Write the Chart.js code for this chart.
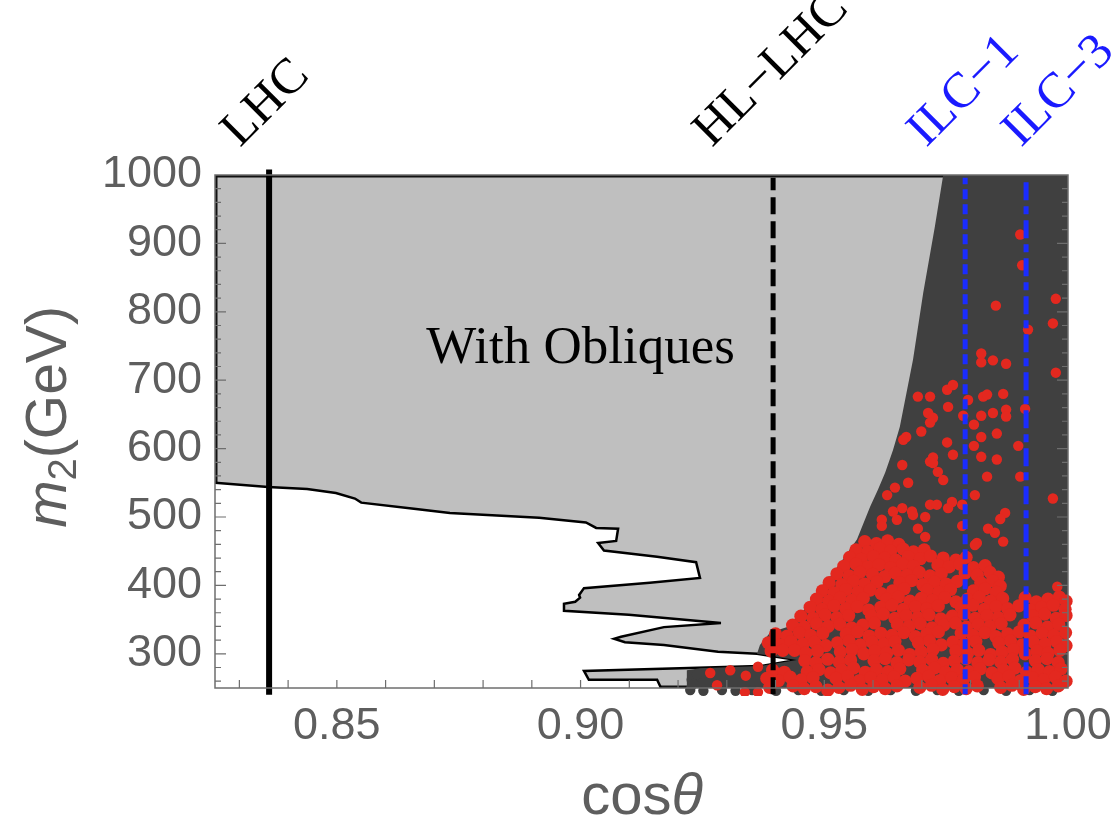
<!DOCTYPE html>
<html>
<head>
<meta charset="utf-8">
<script src="https://cdn.jsdelivr.net/npm/chart.js@4.4.0/dist/chart.umd.min.js"></script>
<style>
  html, body { margin: 0; padding: 0; background: #fff; }
</style>
</head>
<body>
<canvas id="chart" width="1113" height="826"></canvas>
<script>
// axis ranges and ticks
const xRange = [0.825, 1.0];
const yRange = [250, 1000];
const xTickLabels = [0.85, 0.90, 0.95, 1.00];
const yTickLabels = [300, 400, 500, 600, 700, 800, 900, 1000];
const xTickMarks = [0.83, 0.84, 0.85, 0.86, 0.87, 0.88, 0.89, 0.90, 0.91, 0.92, 0.93, 0.94, 0.95, 0.96, 0.97, 0.98, 0.99];
const yTickMarks = [260, 280, 300, 320, 340, 360, 380, 400, 420, 440, 460, 480, 500, 520, 540, 560, 580, 600,
  620, 640, 660, 680, 700, 720, 740, 760, 780, 800, 820, 840, 860, 880, 900, 920, 940, 960, 980];

// collider reaches in cos(theta)
const limitNames = ["LHC", "HL\u2212LHC", "ILC\u22121", "ILC\u22123"];
const limitCos = [0.8361, 0.9395, 0.9789, 0.9914];

// excluded by obliques (light grey), the whole frame
const obliqueRegion = [[0.825, 250], [0.825, 1000], [1.0, 1000], [1.0, 250], [0.825, 250]];

// white region under the black contour
const whiteRegion = [
  [0.800, 550], [0.825, 550], [0.8359, 544], [0.8439, 541], [0.8498, 535], [0.8537, 527], [0.8550, 521],
  [0.8658, 512], [0.8732, 506], [0.8915, 499], [0.9011, 492], [0.9032, 484], [0.9077, 483], [0.9073, 465],
  [0.9036, 462], [0.9048, 451], [0.9157, 442], [0.9237, 434], [0.9245, 411], [0.9142, 404], [0.9007, 396],
  [0.8997, 386], [0.8999, 382], [0.8989, 376], [0.8966, 373], [0.8966, 363], [0.9099, 357], [0.9288, 345],
  [0.9171, 339], [0.9083, 325], [0.9069, 322], [0.9091, 317], [0.9171, 313], [0.9282, 303], [0.9362, 300],
  [0.9444, 291], [0.9368, 282], [0.9007, 275], [0.9017, 262], [0.9157, 262], [0.9165, 250], [0.9165, 240],
  [0.800, 240], [0.800, 550]
];

// scan region (dark grey)
const scanRegion = [
  [1.0, 1000], [0.9744, 1000], [0.9727, 925], [0.9703, 828], [0.9682, 730], [0.9655, 632], [0.9641, 598],
  [0.9625, 565], [0.9610, 540], [0.9594, 515], [0.9567, 467], [0.9518, 418], [0.9465, 369], [0.9424, 339],
  [0.9389, 331], [0.9368, 313], [0.9362, 300], [0.9444, 291], [0.9368, 282], [0.9245, 279], [0.9218, 276],
  [0.9218, 250], [1.0, 250], [1.0, 1000]
];

// dark scan points sticking out at the edges
const scanPoints = [
  [0.9225, 247], [0.9252, 246], [0.9290, 247], [0.9318, 246], [0.9352, 247], [0.9401, 246], [0.9447, 247],
  [0.9494, 246], [0.9540, 247], [0.9590, 246], [0.9636, 247], [0.9688, 246], [0.9732, 247], [0.9776, 246],
  [0.9827, 247], [0.9873, 246], [0.9921, 247], [0.9968, 246], [0.9228, 262], [0.9240, 270], [0.9232, 256]
];

// red points, sparse part
const redSparse = [
  [0.9902, 913], [0.9906, 868], [0.9975, 819], [0.9852, 809], [0.9969, 783], [0.9918, 774], [0.9822, 739],
  [0.9822, 726], [0.9846, 729], [0.9873, 724], [0.9975, 711], [0.9692, 676], [0.9717, 676], [0.9752, 686],
  [0.9764, 693], [0.9754, 661], [0.9795, 671], [0.9826, 676], [0.9834, 679], [0.9867, 680], [0.9713, 652],
  [0.9723, 645], [0.9717, 638], [0.9785, 648], [0.9822, 648], [0.9846, 652], [0.9873, 657], [0.9873, 647],
  [0.9912, 658], [0.9807, 635], [0.9699, 625], [0.9668, 617], [0.9822, 617], [0.9854, 622], [0.9752, 609],
  [0.9807, 604], [0.9898, 604], [0.9764, 591], [0.9822, 588], [0.9723, 587], [0.9854, 584], [0.9662, 613],
  [0.9717, 581], [0.9723, 579], [0.9660, 576], [0.9733, 566], [0.9744, 554], [0.9834, 559], [0.9902, 559],
  [0.9672, 550], [0.9645, 543], [0.9629, 532], [0.9809, 532], [0.9969, 527], [0.9717, 518], [0.9731, 518],
  [0.9762, 522], [0.9754, 513], [0.9783, 518], [0.9660, 513], [0.9641, 508], [0.9649, 496], [0.9618, 496],
  [0.9680, 508], [0.9682, 503], [0.9707, 500], [0.9871, 506], [0.9861, 497], [0.9618, 487], [0.9783, 487],
  [0.9692, 483], [0.9707, 471], [0.9836, 483], [0.9850, 477], [0.9813, 462], [0.9809, 459], [0.9867, 464],
  [0.9978, 398], [0.9266, 272], [0.9307, 276], [0.9339, 268], [0.9364, 281], [0.9337, 244], [0.9364, 244],
  [0.9280, 254]
];

// red points, dense blob
const redDense = [
  [0.9583, 464], [0.9607, 461], [0.9630, 465], [0.9653, 460],
  [0.9565, 452], [0.9589, 449], [0.9614, 454], [0.9636, 450], [0.9662, 453], [0.9683, 449], [0.9705, 452],
  [0.9552, 441], [0.9576, 438], [0.9601, 442], [0.9624, 440], [0.9647, 437], [0.9672, 442], [0.9697, 439],
  [0.9718, 443], [0.9744, 440], [0.9770, 437], [0.9791, 441],
  [0.9540, 428], [0.9565, 431], [0.9590, 427], [0.9612, 430], [0.9636, 426], [0.9661, 431], [0.9683, 428],
  [0.9733, 430], [0.9756, 427], [0.9778, 431], [0.9806, 426], [0.9830, 429],
  [0.9526, 417], [0.9551, 414], [0.9573, 419], [0.9599, 416], [0.9624, 413], [0.9646, 418], [0.9670, 415],
  [0.9695, 419], [0.9717, 414], [0.9740, 417], [0.9789, 418], [0.9814, 415], [0.9840, 419], [0.9857, 412],
  [0.9510, 404], [0.9536, 401], [0.9560, 406], [0.9583, 402], [0.9608, 405], [0.9655, 404], [0.9679, 407],
  [0.9702, 401], [0.9726, 405], [0.9750, 402], [0.9773, 406], [0.9821, 404], [0.9845, 407], [0.9861, 399],
  [0.9496, 392], [0.9520, 389], [0.9545, 394], [0.9569, 390], [0.9594, 393], [0.9617, 388], [0.9640, 392],
  [0.9664, 395], [0.9711, 393], [0.9735, 390], [0.9759, 394], [0.9806, 392], [0.9830, 395], [0.9853, 390],
  [0.9484, 380], [0.9509, 377], [0.9533, 382], [0.9557, 378], [0.9580, 381], [0.9628, 380], [0.9652, 383],
  [0.9676, 377], [0.9699, 381], [0.9722, 378], [0.9747, 382], [0.9770, 376], [0.9794, 380], [0.9818, 383],
  [0.9841, 377], [0.9866, 381], [0.9912, 382], [0.9935, 376], [0.9959, 380], [0.9982, 383], [0.9996, 377],
  [0.9471, 368], [0.9495, 365], [0.9520, 370], [0.9544, 366], [0.9568, 369], [0.9591, 364], [0.9616, 368],
  [0.9639, 371], [0.9662, 365], [0.9687, 369], [0.9710, 366], [0.9734, 370], [0.9781, 368], [0.9805, 371],
  [0.9828, 365], [0.9852, 369], [0.9876, 366], [0.9899, 370], [0.9923, 364], [0.9946, 368], [0.9970, 371],
  [0.9994, 365],
  [0.9452, 355], [0.9477, 352], [0.9502, 357], [0.9526, 353], [0.9550, 356], [0.9597, 355], [0.9621, 358],
  [0.9645, 352], [0.9668, 356], [0.9692, 353], [0.9715, 357], [0.9739, 351], [0.9763, 355], [0.9787, 358],
  [0.9810, 352], [0.9834, 356], [0.9857, 353], [0.9881, 357], [0.9928, 355], [0.9952, 358], [0.9976, 352],
  [0.9996, 356],
  [0.9435, 342], [0.9459, 339], [0.9484, 344], [0.9508, 340], [0.9532, 343], [0.9556, 338], [0.9579, 342],
  [0.9603, 345], [0.9650, 343], [0.9674, 340], [0.9697, 344], [0.9721, 338], [0.9745, 342], [0.9769, 345],
  [0.9792, 339], [0.9816, 343], [0.9840, 340], [0.9863, 344], [0.9910, 342], [0.9934, 345], [0.9958, 339],
  [0.9981, 343],
  [0.9400, 329], [0.9424, 326], [0.9449, 331], [0.9472, 327], [0.9497, 330], [0.9545, 329], [0.9568, 332],
  [0.9592, 326], [0.9616, 330], [0.9639, 327], [0.9663, 331], [0.9687, 325], [0.9710, 329], [0.9734, 332],
  [0.9781, 330], [0.9805, 327], [0.9829, 331], [0.9852, 325], [0.9876, 329], [0.9900, 332], [0.9923, 326],
  [0.9947, 330], [0.9971, 327], [0.9995, 331],
  [0.9385, 316], [0.9409, 313], [0.9432, 318], [0.9456, 314], [0.9480, 317], [0.9503, 312], [0.9527, 316],
  [0.9551, 319], [0.9574, 313], [0.9598, 317], [0.9622, 314], [0.9645, 318], [0.9693, 316], [0.9716, 319],
  [0.9740, 313], [0.9764, 317], [0.9787, 314], [0.9811, 318], [0.9858, 316], [0.9882, 319], [0.9906, 313],
  [0.9929, 317], [0.9953, 314], [0.9977, 318], [0.9996, 312],
  [0.9391, 304], [0.9415, 305], [0.9439, 305], [0.9462, 301], [0.9486, 304], [0.9533, 303], [0.9557, 306],
  [0.9581, 300], [0.9604, 304], [0.9628, 301], [0.9652, 305], [0.9675, 299], [0.9699, 303], [0.9723, 306],
  [0.9770, 304], [0.9794, 301], [0.9817, 305], [0.9841, 299], [0.9865, 303], [0.9888, 306], [0.9912, 300],
  [0.9936, 304], [0.9959, 301], [0.9983, 305],
  [0.9460, 290], [0.9483, 287], [0.9507, 292], [0.9531, 288], [0.9554, 291], [0.9602, 290], [0.9625, 293],
  [0.9649, 287], [0.9673, 291], [0.9696, 288], [0.9720, 292], [0.9744, 286], [0.9767, 290], [0.9791, 293],
  [0.9815, 287], [0.9838, 291], [0.9862, 288], [0.9886, 292], [0.9933, 290], [0.9957, 293], [0.9980, 287],
  [0.9394, 276], [0.9418, 273], [0.9465, 274], [0.9489, 277], [0.9513, 272], [0.9536, 276], [0.9560, 279],
  [0.9584, 273], [0.9607, 277], [0.9631, 274], [0.9655, 278], [0.9702, 276], [0.9726, 279], [0.9749, 273],
  [0.9773, 277], [0.9797, 274], [0.9820, 278], [0.9844, 272], [0.9868, 276], [0.9891, 279], [0.9915, 273],
  [0.9939, 277], [0.9962, 274], [0.9986, 278],
  [0.9382, 264], [0.9406, 261], [0.9430, 266], [0.9453, 262], [0.9477, 265], [0.9524, 264], [0.9548, 267],
  [0.9572, 261], [0.9595, 265], [0.9619, 262], [0.9643, 266], [0.9666, 260], [0.9690, 264], [0.9714, 267],
  [0.9737, 261], [0.9761, 265], [0.9785, 262], [0.9808, 266], [0.9856, 264], [0.9879, 267], [0.9903, 261],
  [0.9927, 265], [0.9950, 262], [0.9974, 266], [0.9996, 260],
  [0.9388, 251], [0.9436, 253], [0.9459, 249], [0.9483, 252], [0.9507, 247], [0.9530, 251], [0.9554, 254],
  [0.9578, 248], [0.9601, 252], [0.9625, 249], [0.9649, 253], [0.9696, 251], [0.9720, 254], [0.9743, 248],
  [0.9767, 252], [0.9791, 249], [0.9814, 253], [0.9862, 251], [0.9885, 254], [0.9909, 248], [0.9933, 252],
  [0.9956, 249], [0.9980, 253]
];

const toXY = pts => pts.map(([x, y]) => ({ x, y }));

function regionSet(pts, fillColor, lineColor, lineWidth, order) {
  return {
    type: 'line', data: toXY(pts), fill: 'shape', backgroundColor: fillColor,
    borderColor: lineColor, borderWidth: lineWidth, pointRadius: 0, tension: 0, order: order
  };
}

function limitSet(i, color, width, dash, ends) {
  return {
    type: 'line', data: [{ x: limitCos[i], y: ends[0] }, { x: limitCos[i], y: ends[1] }],
    borderColor: color, borderWidth: width, borderDash: dash, borderCapStyle: 'butt',
    pointRadius: 0, fill: false, clip: false, order: 1
  };
}

function pointSet(pts, color, radius, order) {
  return {
    type: 'scatter', data: toXY(pts), backgroundColor: color,
    pointRadius: radius, pointHoverRadius: radius, pointBorderWidth: 0, clip: 8, order: order
  };
}

const frameTicks = {
  id: 'frameTicks',
  afterDatasetsDraw(chart) {
    const { ctx, chartArea: a, scales: { x, y } } = chart;
    ctx.save();
    ctx.strokeStyle = '#6e6e6e';
    ctx.lineWidth = 1.5;
    ctx.strokeRect(a.left, a.top, a.right - a.left, a.bottom - a.top);
    ctx.lineWidth = 1.2;
    ctx.beginPath();
    xTickMarks.forEach(v => {
      const px = x.getPixelForValue(v);
      ctx.moveTo(px, a.bottom); ctx.lineTo(px, a.bottom - 8);
    });
    yTickMarks.forEach(v => {
      const py = y.getPixelForValue(v);
      const len = v % 100 === 0 ? 11 : 6;
      ctx.moveTo(a.left, py); ctx.lineTo(a.left + len, py);
      ctx.moveTo(a.right, py); ctx.lineTo(a.right - len, py);
    });
    ctx.stroke();
    ctx.restore();
  }
};

const labelOffsets = [-29, -61, -39, -5];
const labelColors = ['#000000', '#000000', '#1a1aff', '#1a1aff'];

const textLayer = {
  id: 'textLayer',
  afterDraw(chart) {
    const { ctx, chartArea: a, scales: { x, y } } = chart;
    ctx.save();
    // rotated collider names
    ctx.font = '50px "Liberation Serif", "Times New Roman", serif';
    ctx.textAlign = 'left';
    ctx.textBaseline = 'alphabetic';
    limitNames.forEach((name, i) => {
      ctx.save();
      ctx.translate(x.getPixelForValue(limitCos[i]) + labelOffsets[i], a.top - 27);
      ctx.rotate(-Math.PI / 4);
      ctx.fillStyle = labelColors[i];
      ctx.fillText(name, 0, 0);
      ctx.restore();
    });
    // panel label
    ctx.fillStyle = '#000';
    ctx.font = '53px "Liberation Serif", "Times New Roman", serif';
    ctx.textAlign = 'center';
    ctx.textBaseline = 'middle';
    ctx.fillText('With Obliques', x.getPixelForValue(0.9), y.getPixelForValue(745));

    // axis titles
    ctx.fillStyle = '#5e5e5e';
    ctx.textAlign = 'left';
    ctx.textBaseline = 'alphabetic';
    const yParts = [
      { t: 'm', f: 'italic 57px "Liberation Sans", Arial, sans-serif', dy: 0 },
      { t: '2', f: '40px "Liberation Sans", Arial, sans-serif', dy: 10 },
      { t: '(GeV)', f: '57px "Liberation Sans", Arial, sans-serif', dy: 0 }
    ];
    let total = 0;
    yParts.forEach(p => { ctx.font = p.f; p.w = ctx.measureText(p.t).width; total += p.w; });
    ctx.save();
    ctx.translate(66, 417);
    ctx.rotate(-Math.PI / 2);
    let cx = -total / 2;
    yParts.forEach(p => { ctx.font = p.f; ctx.fillText(p.t, cx, p.dy); cx += p.w; });
    ctx.restore();

    const xParts = [
      { t: 'cos', f: '58px "Liberation Sans", Arial, sans-serif' },
      { t: '\u03b8', f: 'italic 58px "Liberation Sans", Arial, sans-serif' }
    ];
    total = 0;
    xParts.forEach(p => { ctx.font = p.f; p.w = ctx.measureText(p.t).width; total += p.w; });
    cx = 642 - total / 2;
    xParts.forEach(p => { ctx.font = p.f; ctx.fillText(p.t, cx, 814); cx += p.w; });
    ctx.restore();
  }
};

const tickFont = { family: '"Liberation Sans", Arial, sans-serif', size: 45 };

new Chart(document.getElementById('chart'), {
  type: 'scatter',
  data: {
    datasets: [
      limitSet(0, '#000000', 6, [], [240, 1008]),
      limitSet(1, '#000000', 5, [17, 7], [241, 996]),
      limitSet(2, '#1a2cff', 5, [10, 5], [241, 996]),
      limitSet(3, '#1a2cff', 5, [18, 6, 8, 6], [241, 996]),
      pointSet(redSparse, '#e3281f', 5.2, 5),
      pointSet(redDense, '#e3281f', 6.6, 5),
      pointSet(scanPoints, '#404040', 5.2, 6),
      regionSet(scanRegion, '#404040', 'rgba(0,0,0,0)', 0, 7),
      regionSet(whiteRegion, '#ffffff', '#000000', 2.5, 8),
      regionSet(obliqueRegion, '#bfbfbf', '#111111', 5, 9)
    ]
  },
  options: {
    responsive: false,
    animation: false,
    events: [],
    layout: { padding: { left: 0, right: 45, top: 175, bottom: 0 } },
    plugins: { legend: { display: false }, tooltip: { enabled: false } },
    scales: {
      x: {
        type: 'linear', min: xRange[0], max: xRange[1],
        grid: { display: false, drawTicks: false }, border: { display: false },
        afterBuildTicks: s => { s.ticks = xTickLabels.map(v => ({ value: v })); },
        afterFit: s => { s.height = 138; s.paddingLeft = 0; s.paddingRight = 0; },
        ticks: { font: tickFont, color: '#5e5e5e', padding: 12, maxRotation: 0, autoSkip: false,
          callback: v => v.toFixed(2) }
      },
      y: {
        type: 'linear', min: yRange[0], max: yRange[1],
        grid: { display: false, drawTicks: false }, border: { display: false },
        afterBuildTicks: s => { s.ticks = yTickLabels.map(v => ({ value: v })); },
        afterFit: s => { s.width = 215; s.paddingTop = 0; s.paddingBottom = 0; },
        ticks: { font: tickFont, color: '#5e5e5e', padding: 13, autoSkip: false,
          callback: v => String(v) }
      }
    }
  },
  plugins: [frameTicks, textLayer]
});
</script>
</body>
</html>
